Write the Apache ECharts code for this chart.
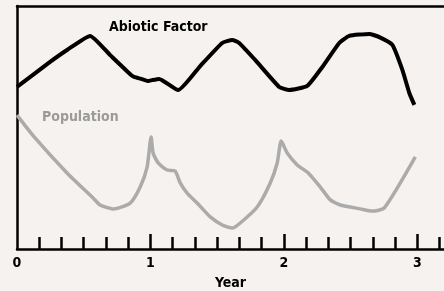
<!DOCTYPE html>
<html>
<head>
<meta charset="utf-8">
<script src="https://cdn.jsdelivr.net/npm/echarts@6/dist/echarts.min.js"></script>
<style>
  html, body { margin: 0; padding: 0; background: #f5f2ef; }
  #main { width: 444px; height: 291px; }
</style>
</head>
<body>
<div id="main"></div>
<script>
// values (x in years, y on a 0-100 scale)
const abioticYears = [0, 0.248, 0.375, 0.548, 0.698, 0.855, 0.878, 0.93, 0.983, 1.013, 1.065, 1.208,
  1.373, 1.538, 1.613, 1.665, 1.785, 1.965, 2.04, 2.175, 2.288, 2.415, 2.49, 2.64, 2.715, 2.813,
  2.888, 2.94, 2.978];
const abioticValues = [66.7, 77.0, 81.9, 87.7, 79.8, 71.6, 70.8, 70.0, 69.1, 69.5, 70.0, 65.4,
  75.3, 84.8, 86.0, 84.8, 77.8, 66.7, 65.4, 67.1, 74.9, 84.8, 87.7, 88.5, 87.2, 84.0,
  73.7, 64.2, 59.3];

const populationYears = [0, 0.135, 0.375, 0.57, 0.623, 0.72, 0.848, 0.923, 0.975, 1.005, 1.02, 1.058,
  1.125, 1.185, 1.223, 1.275, 1.35, 1.448, 1.538, 1.613, 1.673, 1.8, 1.898, 1.95, 1.98, 2.025,
  2.1, 2.183, 2.273, 2.348, 2.423, 2.573, 2.663, 2.753, 2.985];
const populationValues = [55.1, 45.7, 31.3, 21.0, 18.1, 16.5, 18.9, 25.5, 33.7, 46.1, 39.5, 35.4,
  32.5, 32.1, 27.2, 23.0, 18.9, 13.2, 9.9, 8.6, 10.7, 17.3, 27.2, 35.4, 44.4, 39.5,
  34.6, 31.3, 25.5, 20.2, 18.1, 16.5, 15.6, 16.9, 37.9];

const yearLabels = [0, 1, 2, 3];
const minorTicks = [];
for (let k = 1; k <= 19; k++) {
  if (k % 6 !== 0) minorTicks.push(k / 6);
}

const font = "'Liberation Sans Narrow', 'DejaVu Sans Condensed', 'Liberation Sans', sans-serif";
const X_MAX = 3.2;

const chart = echarts.init(document.getElementById('main'));

const option = {
  backgroundColor: '#f5f2ef',
  animation: false,
  grid: { left: 17, right: 0, top: 6, bottom: 42, outerBoundsMode: 'none', containLabel: false },
  xAxis: [
    {
      type: 'value', min: 0, max: X_MAX, position: 'bottom',
      axisLine: { show: true, lineStyle: { color: '#000', width: 2.5 } },
      axisTick: { show: true, inside: true, length: 15, customValues: [1, 2, 3],
        lineStyle: { color: '#000', width: 2.5 } },
      axisLabel: { customValues: yearLabels, color: '#000', fontFamily: font, fontWeight: 'bold',
        fontSize: 14, margin: 7 },
      splitLine: { show: false },
      name: 'Year', nameLocation: 'middle', nameGap: 27,
      nameTextStyle: { color: '#000', fontFamily: font, fontWeight: 'bold', fontSize: 14 }
    },
    {
      type: 'value', min: 0, max: X_MAX, position: 'bottom',
      axisLine: { show: false },
      axisTick: { show: true, inside: true, length: 12, customValues: minorTicks,
        lineStyle: { color: '#000', width: 2.5 } },
      axisLabel: { show: false },
      splitLine: { show: false }
    },
    {
      type: 'value', min: 0, max: X_MAX, position: 'top',
      axisLine: { show: true, lineStyle: { color: '#000', width: 2.5 } },
      axisTick: { show: false }, axisLabel: { show: false }, splitLine: { show: false }
    }
  ],
  yAxis: {
    type: 'value', min: 0, max: 100,
    axisLine: { show: true, lineStyle: { color: '#000', width: 2.5 } },
    axisTick: { show: false }, axisLabel: { show: false }, splitLine: { show: false }
  },
  graphic: [
    { type: 'text', left: 109, top: 20,
      style: { text: 'Abiotic Factor', fill: '#000', font: 'bold 14px ' + font } },
    { type: 'text', left: 42, top: 110,
      style: { text: 'Population', fill: '#9a9a9a', font: 'bold 14px ' + font } }
  ],
  series: [
    {
      name: 'Abiotic Factor', type: 'line', smooth: 0.15, showSymbol: false,
      lineStyle: { color: '#000', width: 4 },
      data: abioticYears.map((x, i) => [x, abioticValues[i]])
    },
    {
      name: 'Population', type: 'line', smooth: 0.2, showSymbol: false,
      lineStyle: { color: '#ababab', width: 3.5 },
      data: populationYears.map((x, i) => [x, populationValues[i]])
    }
  ]
};

chart.setOption(option);
</script>
</body>
</html>
